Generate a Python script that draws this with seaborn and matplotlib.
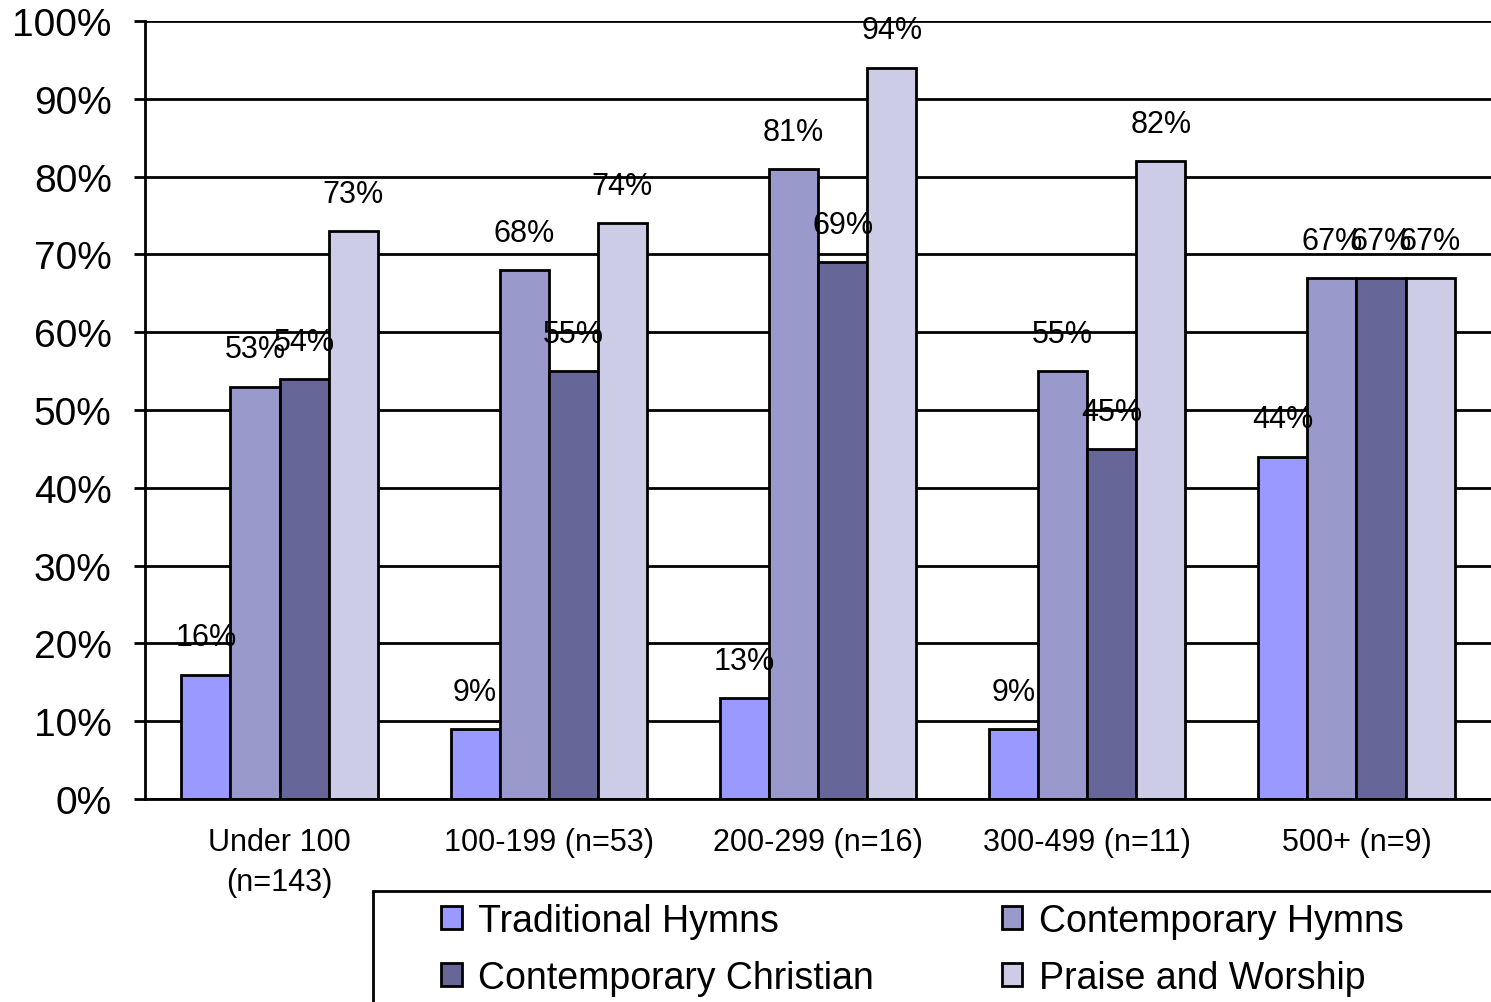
import matplotlib
matplotlib.use("Agg")
import matplotlib.pyplot as plt
import numpy as np
import pandas as pd
import seaborn as sns

#------Data------

GROUPS = ["Under 100\n(n=143)", "100-199 (n=53)", "200-299 (n=16)", "300-499 (n=11)", "500+ (n=9)"]
SERIES = ["Traditional Hymns", "Contemporary Hymns", "Contemporary Christian", "Praise and Worship"]

traditional_hymns = [16, 9, 13, 9, 44]
contemporary_hymns = [53, 68, 81, 55, 67]
contemporary_christian = [54, 55, 69, 45, 67]
praise_and_worship = [73, 74, 94, 82, 67]

COLORS = ["#9999FF", "#9999CC", "#666699", "#CCCCE6"]

W, H = 1491, 1003

#------Plot------

sns.set_theme(style="white")
plt.rcParams["font.family"] = ["Liberation Sans", "DejaVu Sans"]
plt.rcParams["text.color"] = "black"

rows = []
for name, vals in zip(SERIES, [traditional_hymns, contemporary_hymns, contemporary_christian, praise_and_worship]):
    for g, v in zip(GROUPS, vals):
        rows.append({"group": g, "series": name, "value": v})
df = pd.DataFrame(rows)

fig = plt.figure(figsize=(W / 100, H / 100), dpi=100)
ax = fig.add_axes([145 / W, 1 - 800 / H, 1 - 145 / W, (800 - 22) / H])

sns.barplot(data=df, x="group", y="value", hue="series", order=GROUPS, hue_order=SERIES,
            palette=COLORS, width=0.73, saturation=1, edgecolor="black", linewidth=2,
            errorbar=None, legend=False, ax=ax)

for cont in ax.containers:
    ax.bar_label(cont, labels=[f"{int(round(b.get_height()))}%" for b in cont],
                 padding=16, fontsize=22, color="black")

ax.set_ylim(0, 100)
ax.set_xlim(-0.5, 4.5)
ax.set_yticks(np.arange(0, 101, 10))
ax.set_yticklabels([f"{v}%" for v in range(0, 101, 10)], fontsize=28, color="black")
ax.set_xticks(range(len(GROUPS)))
ax.set_xticklabels(GROUPS, fontsize=22, linespacing=1.45, color="black")
ax.set_xticks(np.arange(-0.5, 4.6, 1), minor=True)
ax.tick_params(axis="x", which="major", length=0, pad=20)
ax.tick_params(axis="x", which="minor", length=8, width=2, color="black", direction="out")
ax.tick_params(axis="y", length=8, width=2, color="black", direction="out", pad=16, left=True)
ax.set_xlabel("")
ax.set_ylabel("")

ax.grid(axis="y", color="black", linewidth=2)
ax.set_axisbelow(True)
for side in ["top", "right"]:
    ax.spines[side].set_visible(False)
for side in ["left", "bottom"]:
    ax.spines[side].set_color("black")
    ax.spines[side].set_linewidth(2)

# legend box runs off the right and bottom edge of the image
box = plt.Rectangle((373 / W, -0.05), 1.1, 1 - 892 / H + 0.05, transform=fig.transFigure,
                    facecolor="white", edgecolor="black", linewidth=2, clip_on=False)
fig.patches.append(box)

# legend is filled column by column, so reorder to get row-wise reading
order = [0, 2, 1, 3]
handles = [plt.Rectangle((0, 0), 1, 1, facecolor=COLORS[i], edgecolor="black", linewidth=2) for i in order]
labels = [SERIES[i] for i in order]
leg = fig.legend(handles, labels, loc="upper left", bbox_to_anchor=(441 / W, 1 - 904 / H),
                 ncol=2, fontsize=27, frameon=False, handlelength=0.55,
                 handleheight=0.55, handletextpad=0.45, columnspacing=3.4, borderpad=0,
                 labelspacing=0.55, borderaxespad=0, labelcolor="black")

fig.savefig("out.png", dpi=100)
